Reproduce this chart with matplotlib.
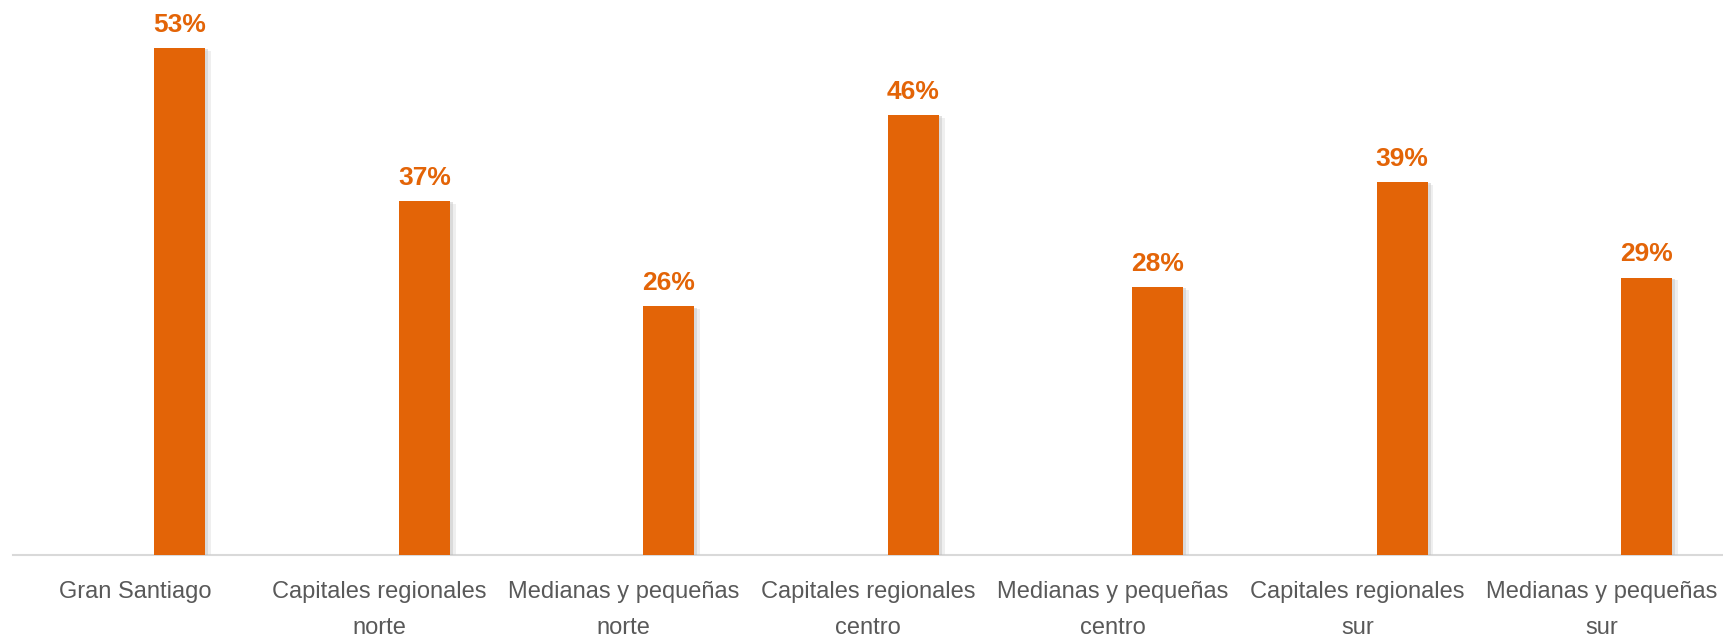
import matplotlib
matplotlib.use("Agg")
import matplotlib.pyplot as plt
import matplotlib.patheffects as pe
from matplotlib import font_manager
import numpy as np

categories = ["Gran Santiago", "Capitales regionales\nnorte", "Medianas y pequeñas\nnorte",
              "Capitales regionales\ncentro", "Medianas y pequeñas\ncentro",
              "Capitales regionales\nsur", "Medianas y pequeñas\nsur"]
values = [53, 37, 26, 46, 28, 39, 29]
value_labels = ["53%", "37%", "26%", "46%", "28%", "39%", "29%"]

names = {f.name for f in font_manager.fontManager.ttflist}
fam = "Liberation Sans Narrow" if "Liberation Sans Narrow" in names else "Liberation Sans"

orange = "#E36407"
fig = plt.figure(figsize=(17.24, 6.39), dpi=100)
ax = fig.add_axes([12.6/1724, 1-555/639, 1-12.6/1724, 555/639])
x = np.arange(len(categories))
offset = 0.184
bars = ax.bar(x + offset, values, width=0.21, color=orange, zorder=3,
              path_effects=[pe.SimplePatchShadow(offset=(2, -1), shadow_rgbFace="#aaaaaa", alpha=0.35),
                            pe.SimplePatchShadow(offset=(4, -2), shadow_rgbFace="#cccccc", alpha=0.3),
                            pe.Normal()])
for xi, v, lab in zip(x, values, value_labels):
    ax.annotate(lab, (xi + offset, v), xytext=(0, 8), textcoords="offset points",
                ha="center", va="bottom", color=orange, fontsize=19, fontweight="bold", family=fam)
ax.set_xlim(-0.5, 6.5)
ax.set_ylim(0, 58)
for s in ["top", "right", "left"]:
    ax.spines[s].set_visible(False)
ax.spines["bottom"].set_color("#D9D9D9")
ax.spines["bottom"].set_linewidth(1.5)
ax.set_yticks([])
ax.set_xticks(x)
ax.set_xticklabels(categories, family=fam, fontsize=17, color="#595959", linespacing=1.8)
ax.tick_params(axis="x", length=0, pad=19)
fig.savefig("out.png", dpi=100)
